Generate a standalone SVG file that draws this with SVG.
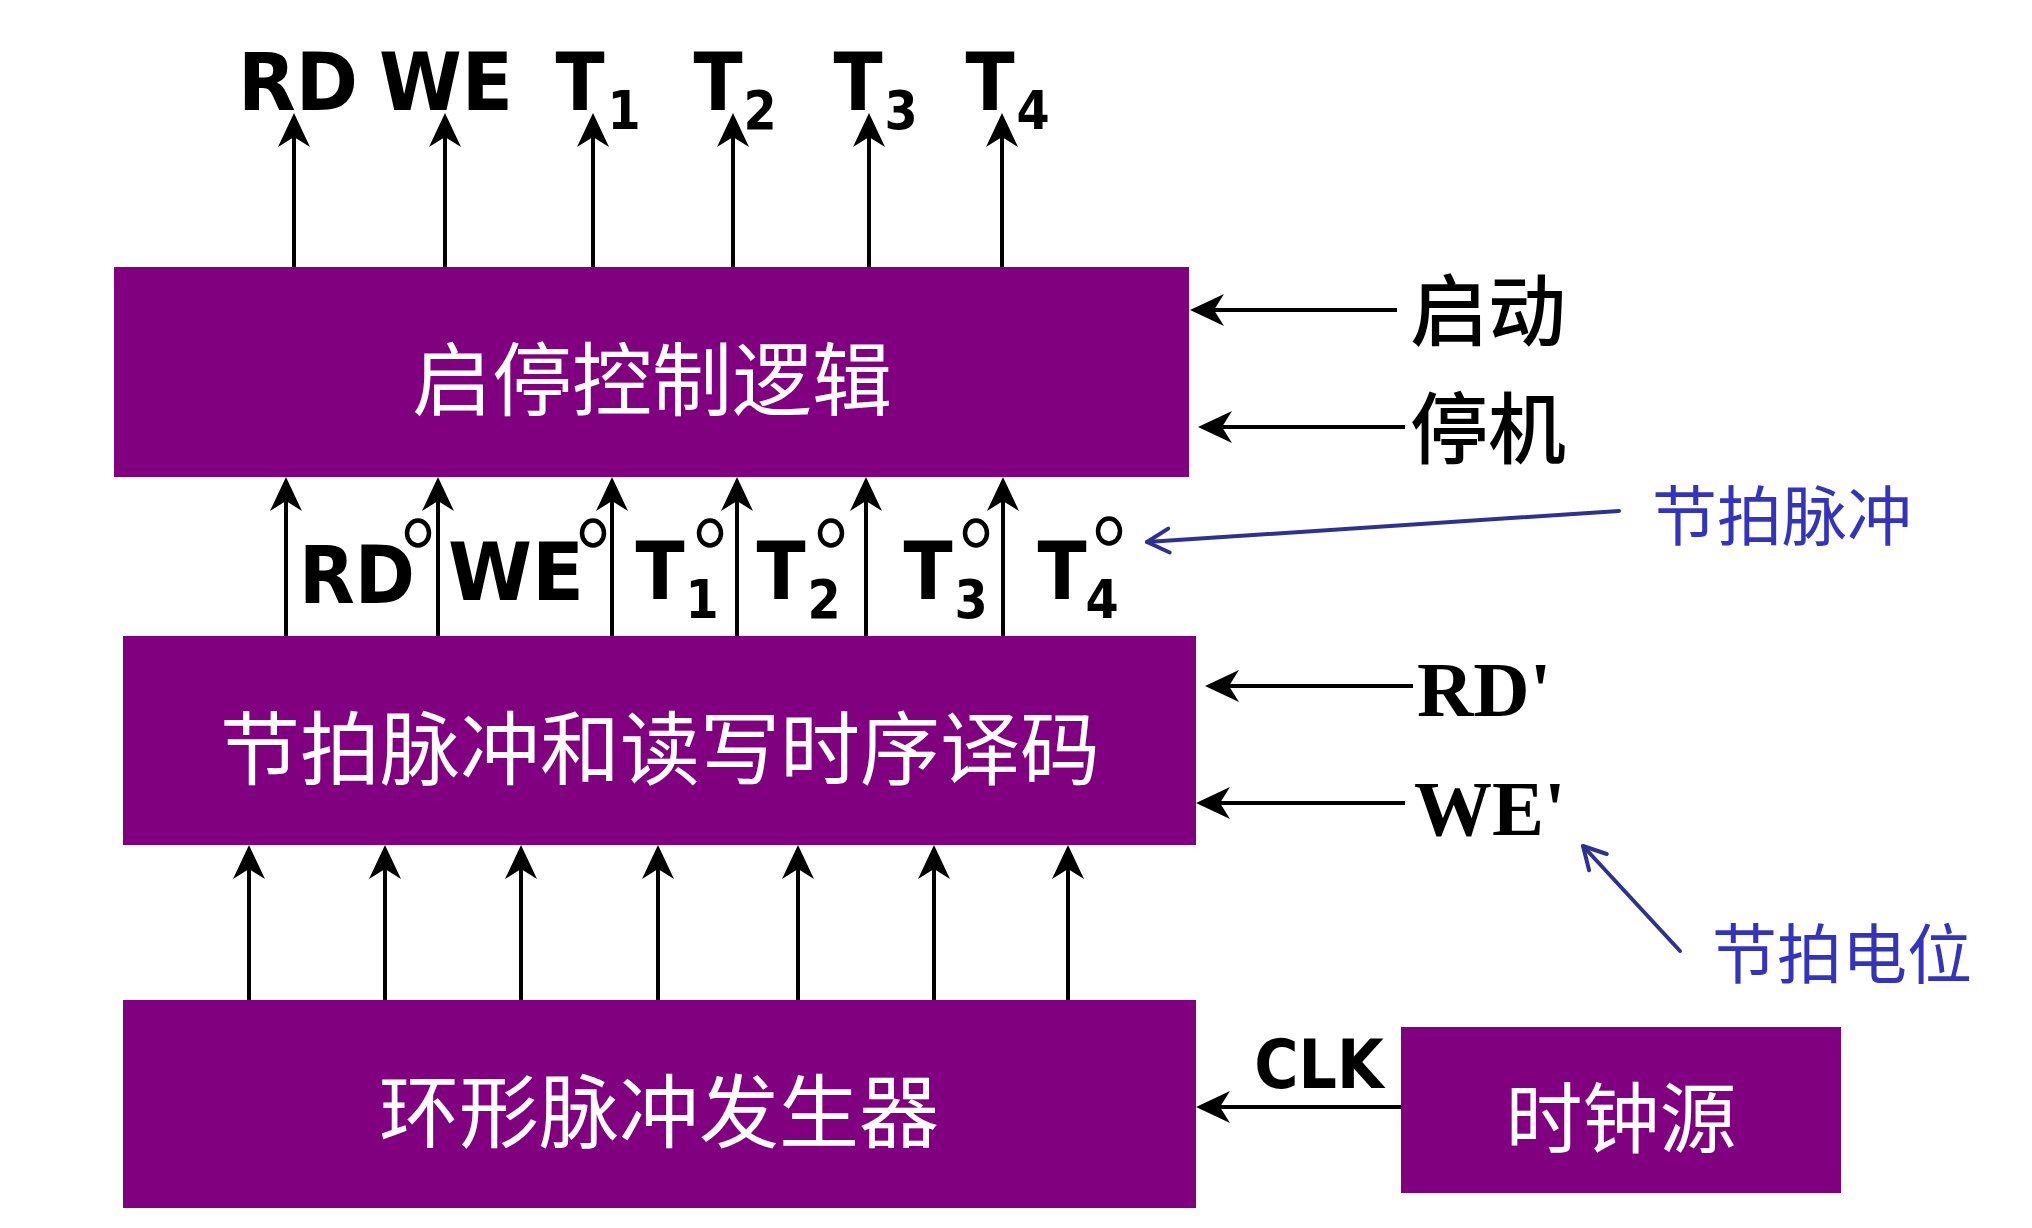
<svg xmlns="http://www.w3.org/2000/svg" width="2032" height="1228" viewBox="0 0 2032 1228">
<defs>
<style>
.box{fill:#800080}
.ttl{font-family:"Noto Sans CJK SC",sans-serif;fill:#fff;text-anchor:middle}
.cjk{font-family:"Noto Sans CJK SC",sans-serif;fill:#000;font-weight:500}
.blue{font-family:"Noto Sans CJK SC",sans-serif;fill:#3333bb}
.sig{font-family:"DejaVu Sans",sans-serif;font-weight:bold;font-stretch:condensed;fill:#000;text-anchor:middle}
.ser{font-family:"Liberation Serif",serif;font-weight:bold;fill:#000}
.ln{stroke:#000;stroke-width:4;fill:none;marker-end:url(#ah)}
.bl{stroke:#2e3192;stroke-width:4;fill:none;stroke-linecap:round;marker-end:url(#oh)}
.ring{fill:none;stroke:#000;stroke-width:4.5}
</style>
<marker id="ah" viewBox="0 0 34 32" refX="10" refY="16" markerWidth="34" markerHeight="32" markerUnits="userSpaceOnUse" orient="auto">
<path d="M34,16 L0,0 L10,16 L0,32 Z" fill="#000"/>
</marker>
<marker id="oh" viewBox="0 0 30 30" refX="25" refY="15" markerWidth="30" markerHeight="30" markerUnits="userSpaceOnUse" orient="auto">
<path d="M3,3 L25,15 L3,27" fill="none" stroke="#2e3192" stroke-width="4" stroke-linecap="round" stroke-linejoin="round"/>
</marker>
</defs>
<rect width="2032" height="1228" fill="#fff"/>

<g id="connectors">
<line class="ln" x1="294" y1="267" x2="294" y2="137"/>
<line class="ln" x1="445" y1="267" x2="445" y2="137"/>
<line class="ln" x1="593" y1="267" x2="593" y2="137"/>
<line class="ln" x1="733" y1="267" x2="733" y2="137"/>
<line class="ln" x1="869" y1="267" x2="869" y2="137"/>
<line class="ln" x1="1002" y1="267" x2="1002" y2="137"/>

<line class="ln" x1="286" y1="636" x2="286" y2="501"/>
<line class="ln" x1="438" y1="636" x2="438" y2="501"/>
<line class="ln" x1="612" y1="636" x2="612" y2="501"/>
<line class="ln" x1="737" y1="636" x2="737" y2="501"/>
<line class="ln" x1="866" y1="636" x2="866" y2="501"/>
<line class="ln" x1="1003" y1="636" x2="1003" y2="501"/>

<line class="ln" x1="249" y1="1000" x2="249" y2="869"/>
<line class="ln" x1="385" y1="1000" x2="385" y2="869"/>
<line class="ln" x1="521" y1="1000" x2="521" y2="869"/>
<line class="ln" x1="658" y1="1000" x2="658" y2="869"/>
<line class="ln" x1="798" y1="1000" x2="798" y2="869"/>
<line class="ln" x1="934" y1="1000" x2="934" y2="869"/>
<line class="ln" x1="1068" y1="1000" x2="1068" y2="869"/>

<line class="ln" x1="1397" y1="310" x2="1214" y2="310"/>
<line class="ln" x1="1405" y1="427" x2="1222" y2="427"/>
<line class="ln" x1="1413" y1="686" x2="1229" y2="686"/>
<line class="ln" x1="1405" y1="803" x2="1220" y2="803"/>
<line class="ln" x1="1401" y1="1107" x2="1220" y2="1107"/>

<line class="bl" x1="1619" y1="511" x2="1147" y2="542"/>
<line class="bl" x1="1680" y1="951" x2="1583" y2="846"/>
</g>

<g id="start-stop-logic">
<rect class="box" x="114" y="267" width="1075" height="210"/>
<text class="ttl" x="652" y="409" font-size="80">启停控制逻辑</text>
</g>

<g id="decoder">
<rect class="box" x="123" y="636" width="1073" height="209"/>
<text class="ttl" x="660" y="778" font-size="80">节拍脉冲和读写时序译码</text>
</g>

<g id="ring-pulse-generator">
<rect class="box" x="123" y="1000" width="1073" height="208"/>
<text class="ttl" x="659" y="1141" font-size="80">环形脉冲发生器</text>
</g>

<g id="clock-source">
<rect class="box" x="1401" y="1027" width="440" height="166"/>
<text class="ttl" x="1621" y="1147" font-size="77">时钟源</text>
</g>

<g id="outputs">
<text class="sig" x="298" y="110" font-size="80" textLength="120" lengthAdjust="spacingAndGlyphs">RD</text>
<text class="sig" x="446" y="110" font-size="80" textLength="134" lengthAdjust="spacingAndGlyphs">WE</text>
<text class="sig" x="580" y="110" font-size="80">T</text>
<text class="sig" x="624" y="129" font-size="53">1</text>
<text class="sig" x="718" y="110" font-size="80">T</text>
<text class="sig" x="760" y="129" font-size="53">2</text>
<text class="sig" x="858" y="110" font-size="80">T</text>
<text class="sig" x="901" y="129" font-size="53">3</text>
<text class="sig" x="990" y="110" font-size="80">T</text>
<text class="sig" x="1033" y="129" font-size="53">4</text>
</g>

<g id="inverted-signals">
<text class="sig" x="357" y="603" font-size="80" textLength="116" lengthAdjust="spacingAndGlyphs">RD</text>
<text class="sig" x="516" y="600" font-size="80" textLength="136" lengthAdjust="spacingAndGlyphs">WE</text>
<text class="sig" x="660" y="599" font-size="80">T</text>
<text class="sig" x="702" y="618" font-size="53">1</text>
<text class="sig" x="781" y="599" font-size="80">T</text>
<text class="sig" x="824" y="618" font-size="53">2</text>
<text class="sig" x="928" y="599" font-size="80">T</text>
<text class="sig" x="971" y="618" font-size="53">3</text>
<text class="sig" x="1062" y="599" font-size="80">T</text>
<text class="sig" x="1102" y="618" font-size="53">4</text>
<ellipse class="ring" cx="418" cy="533" rx="11" ry="12.5"/>
<ellipse class="ring" cx="593" cy="533" rx="11" ry="12.5"/>
<ellipse class="ring" cx="710" cy="533" rx="11" ry="12.5"/>
<ellipse class="ring" cx="831" cy="533" rx="11" ry="12.5"/>
<ellipse class="ring" cx="976" cy="533" rx="11" ry="12.5"/>
<ellipse class="ring" cx="1109" cy="531" rx="11" ry="12.5"/>
</g>

<g id="input-start"><text class="cjk" x="1410" y="340" font-size="78">启动</text></g>
<g id="input-stop"><text class="cjk" x="1410" y="458" font-size="78">停机</text></g>
<g id="input-rd"><text class="ser" x="1417" y="716" font-size="78">RD'</text></g>
<g id="input-we"><text class="ser" x="1414" y="835" font-size="78">WE'</text></g>
<g id="clk-label"><text class="sig" x="1319" y="1088" font-size="67">CLK</text></g>
<g id="note-pulse"><text class="blue" x="1652" y="540" font-size="65">节拍脉冲</text></g>
<g id="note-level"><text class="blue" x="1712" y="978" font-size="65">节拍电位</text></g>
</svg>
